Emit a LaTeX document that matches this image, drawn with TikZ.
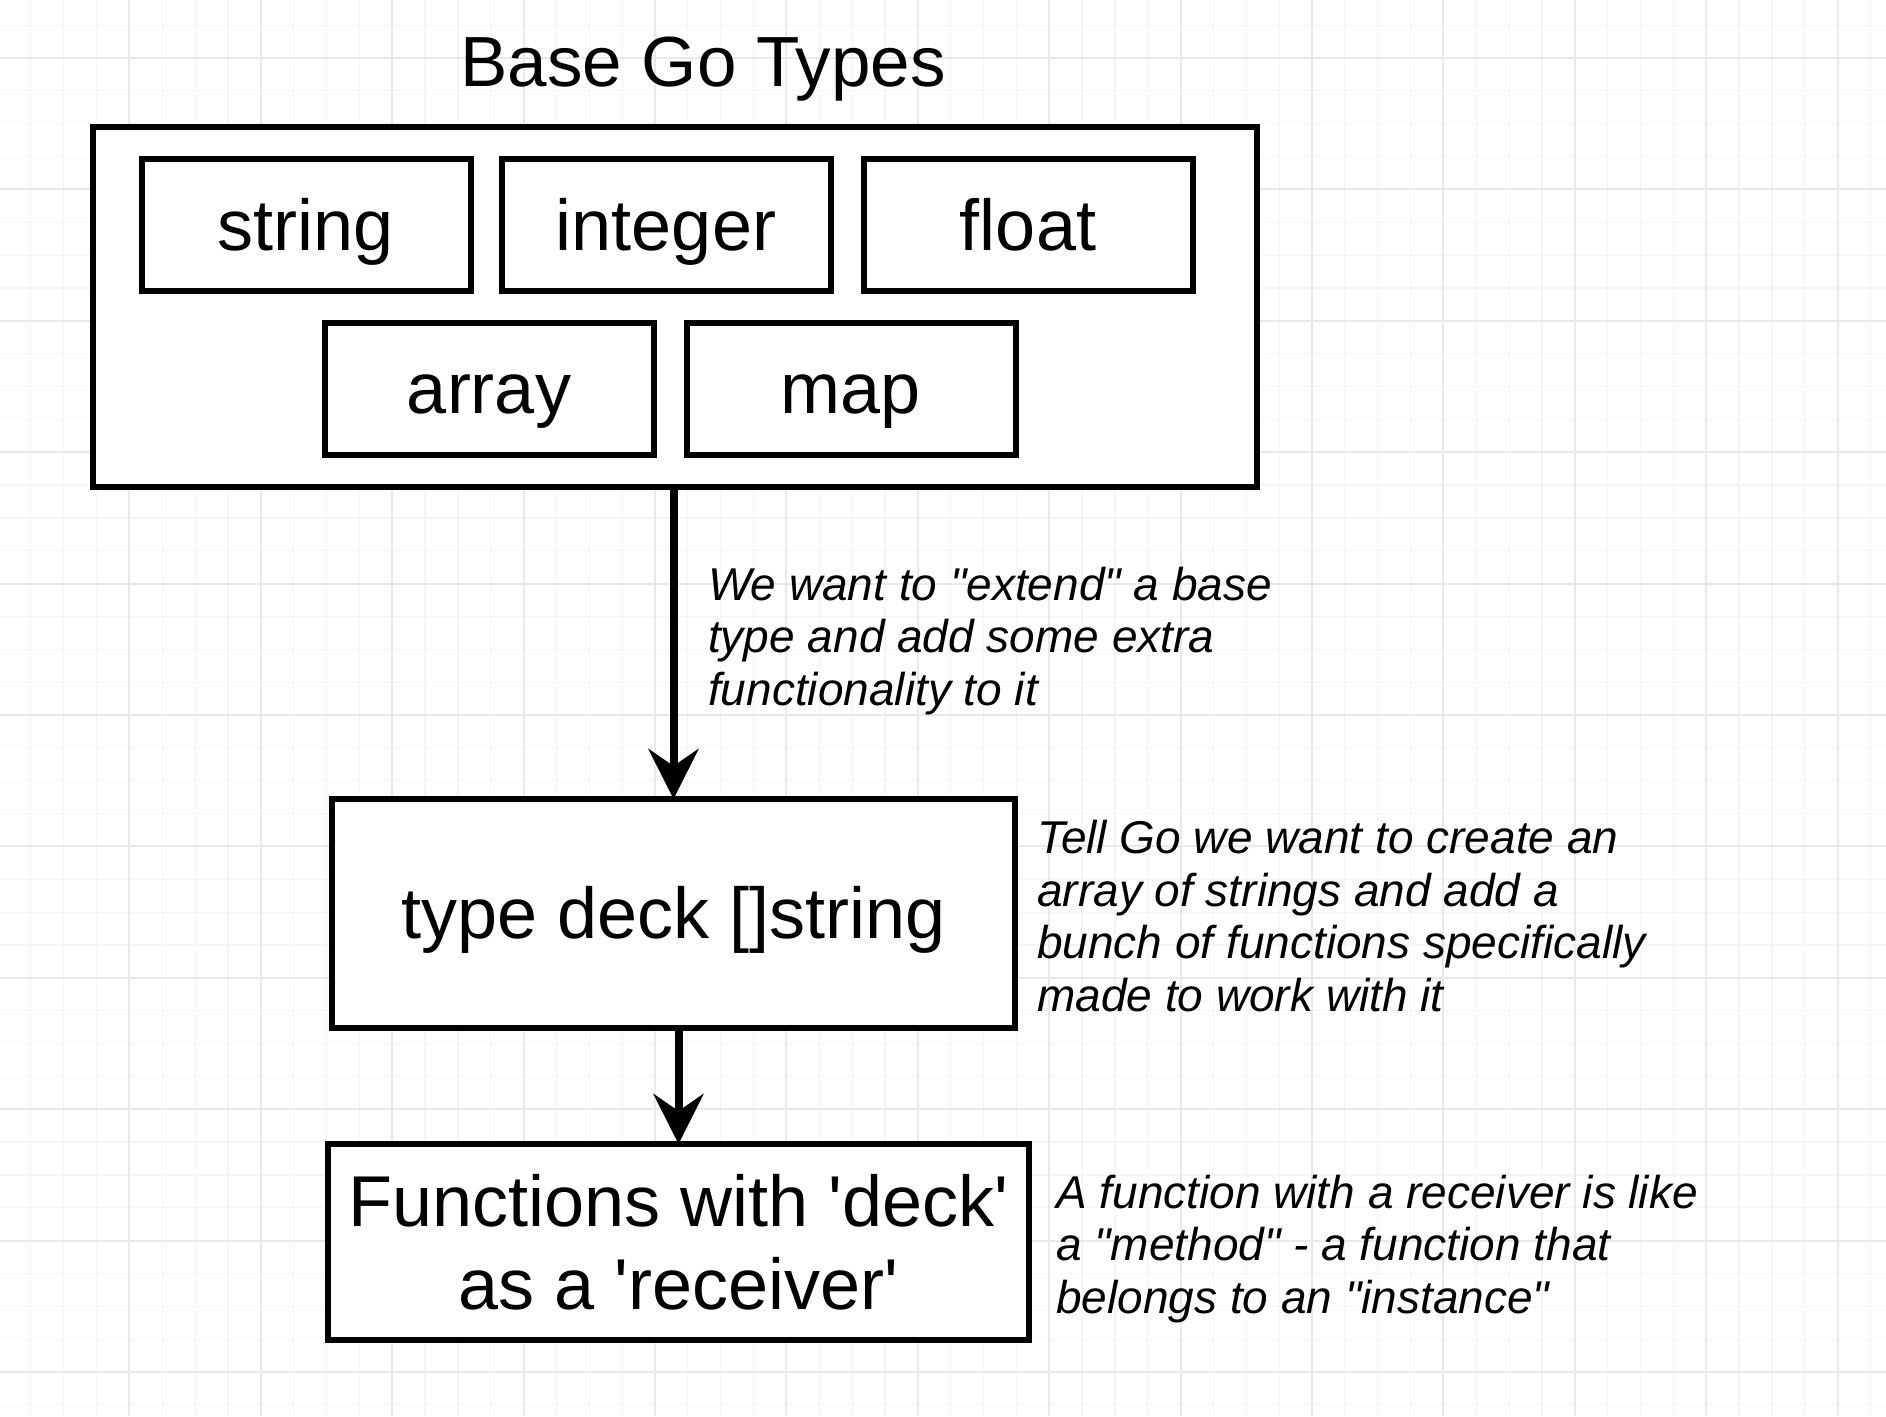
\documentclass[tikz,border=0pt]{standalone}
\usepackage{fontspec}
\setmainfont{Liberation Sans}[Ligatures=TeXOff]
\usetikzlibrary{positioning,arrows.meta}
\definecolor{gridmajor}{RGB}{233,233,233}
\definecolor{gridminor}{RGB}{245,245,245}

\begin{document}
\begin{tikzpicture}[x=1pt,y=-1pt,
  typebox/.style={draw, fill=white, line width=6pt, outer sep=0pt, inner sep=0pt,
    minimum width=\boxw pt, minimum height=\boxh pt,
    font=\fontsize{72}{83}\selectfont, text height=50pt, text depth=0pt},
  note/.style={anchor=base west, align=left, inner sep=0pt,
    font=\fontsize{46}{52.5}\selectfont\itshape},
  flow/.style={line width=8pt, -{Stealth[length=50pt,width=50pt,inset=17pt]}}]
% Basic parameters for boxes and grid
\def\boxw{329}
\def\boxh{132}
\def\minor{32.85}

% Page and background grid
\useasboundingbox (0,0) rectangle (1886,1416);
\fill[white] (0,0) rectangle (1886,1416);
\foreach \i in {0,...,58}
    \draw[gridminor, line width=1.2pt] ({-2+\i*\minor},0) -- ({-2+\i*\minor},1416);
\foreach \i in {-2,...,42}
    \draw[gridminor, line width=1.2pt] (0,{58+\i*\minor}) -- (1886,{58+\i*\minor});
\foreach \i in {0,...,14}
    \draw[gridmajor, line width=2pt] ({-2+4*\i*\minor},0) -- ({-2+4*\i*\minor},1416);
\foreach \i in {-1,...,10}
    \draw[gridmajor, line width=2pt] (0,{58+4*\i*\minor}) -- (1886,{58+4*\i*\minor});

% Title and outer box
\node[anchor=base, inner sep=0pt, font=\fontsize{71}{82}\selectfont] (title) at (703,86) {Base Go Types};
\node[typebox, minimum width=1164.5pt, minimum height=360pt] (basebox) at (675,307) {};

% Base types
\node[typebox] (string)  at (306,225)   {string};
\node[typebox] (integer) at (666,225)   {integer};
\node[typebox] (float)   at (1028,225)  {float};
\node[typebox] (array)   at (489,388.5) {array};
\node[typebox] (map)     at (851,388.5) {map};

% Custom type and its functions
\node[typebox, minimum width=683pt, minimum height=229pt] (deck) at (673.5,913.5) {type deck []string};
\node[typebox, minimum width=701pt, minimum height=196pt, align=center,
      text height=135pt] (funcs) at (678.5,1242)
      {Functions with 'deck'\\as a 'receiver'};

% Arrows
\draw[flow] (deck.north |- basebox.south) -- (deck.north);
\draw[flow] (funcs.north |- deck.south) -- (funcs.north);

% Notes (placed at the baseline of their last line)
\node[note] (extendnote) at (708,705)
    {We want to "extend" a base\\type and add some extra\\functionality to it};
\node[note] (decknote) at (1037,1011)
    {Tell Go we want to create an\\array of strings and add a\\bunch of functions specifically\\made to work with it};
\node[note] (receivernote) at (1056,1313)
    {A function with a receiver is like\\a "method" - a function that\\belongs to an "instance"};
\end{tikzpicture}
\end{document}
